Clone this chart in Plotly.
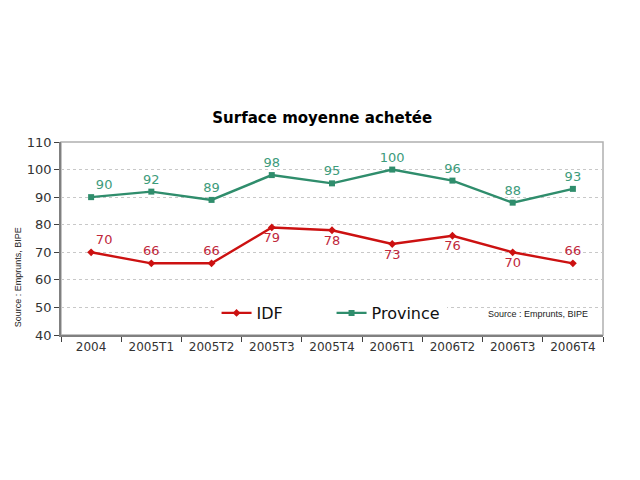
import plotly.graph_objects as go

categories = ["2004", "2005T1", "2005T2", "2005T3", "2005T4", "2006T1", "2006T2", "2006T3", "2006T4"]
idf_values = [70, 66, 66, 79, 78, 73, 76, 70, 66]
province_values = [90, 92, 89, 98, 95, 100, 96, 88, 93]
idf_label_pos = ["top right", "top center", "top center", "bottom center", "bottom center",
                 "bottom center", "bottom center", "bottom center", "top center"]
province_label_pos = ["top right", "top center", "top center", "top center", "top center",
                      "top center", "top center", "top center", "top center"]
y_ticks = [40, 50, 60, 70, 80, 90, 100, 110]

RED = "#cc1111"
RED_LABEL = "#c0283c"
GREEN = "#2f8d6c"
GREEN_LABEL = "#3d9b7b"

fig = go.Figure()
fig.add_trace(go.Scatter(
    x=categories, y=idf_values, name="IDF", mode="lines+markers+text",
    line=dict(color=RED, width=2.4), marker=dict(symbol="diamond", size=6, color=RED),
    text=[str(v) for v in idf_values], textposition=idf_label_pos,
    textfont=dict(family="DejaVu Sans", size=13, color=RED_LABEL),
))
fig.add_trace(go.Scatter(
    x=categories, y=province_values, name="Province", mode="lines+markers+text",
    line=dict(color=GREEN, width=2.4), marker=dict(symbol="square", size=6, color=GREEN),
    text=[str(v) for v in province_values], textposition=province_label_pos,
    textfont=dict(family="DejaVu Sans", size=13, color=GREEN_LABEL),
))

fig.update_layout(
    width=640, height=480,
    margin=dict(l=53, r=45, t=134, b=153),
    paper_bgcolor="white", plot_bgcolor="white",
    title=dict(text="<b>Surface moyenne achetée</b>", x=0.491, xanchor="center",
               y=1 - 110 / 480, yanchor="middle",
               font=dict(family="DejaVu Sans", size=15, color="#000000")),
    showlegend=True,
    legend=dict(orientation="h", x=0.287, y=0.114, xanchor="left", yanchor="middle",
                bgcolor="white", font=dict(family="DejaVu Sans", size=16, color="#111111"),
                entrywidth=70, entrywidthmode="pixels"),
    font=dict(family="DejaVu Sans", size=12, color="#333333"),
)
fig.update_xaxes(
    type="category", range=[-0.5, 8.5], showgrid=False,
    showline=True, linecolor="#808080", linewidth=1.5, mirror=False,
    ticks="outside", ticklen=5, tickcolor="#404040", tickson="boundaries",
    tickfont=dict(family="DejaVu Sans", size=12, color="#333333"),
)
fig.update_yaxes(
    range=[40, 110], tickvals=y_ticks, showgrid=True, gridcolor="#c8c8c8",
    griddash="dot", gridwidth=1,
    showline=True, linecolor="#808080", linewidth=1.5,
    ticks="outside", ticklen=5, tickcolor="#404040",
    tickfont=dict(family="DejaVu Sans", size=13, color="#333333"),
    zeroline=False,
)
# plot area frame on top and right
fig.add_shape(type="rect", xref="paper", yref="paper", x0=0, y0=0, x1=1, y1=1,
              line=dict(color="#b0b0b0", width=1.5), layer="below")
# white boxes behind legend and source text that hide the 50 gridline
fig.add_shape(type="rect", xref="paper", yref="paper", x0=0.251, x1=0.736, y0=0.07, y1=0.16,
              fillcolor="white", line=dict(width=0), layer="between")
fig.add_shape(type="rect", xref="paper", yref="paper", x0=0.782, x1=0.994, y0=0.07, y1=0.16,
              fillcolor="white", line=dict(width=0), layer="between")
fig.add_annotation(text="Source : Emprunts, BIPE", xref="paper", yref="paper",
                   x=0.976, y=0.108, xanchor="right", yanchor="middle", showarrow=False,
                   font=dict(family="Liberation Sans Narrow, Liberation Sans", size=9, color="#222222"))
fig.add_annotation(text="Source : Emprunts, BIPE", xref="paper", yref="paper",
                   x=-0.079, y=0.30, xanchor="center", yanchor="middle", showarrow=False,
                   textangle=-90,
                   font=dict(family="Liberation Sans Narrow, Liberation Sans", size=9, color="#222222"))

fig.write_html("out.html")
